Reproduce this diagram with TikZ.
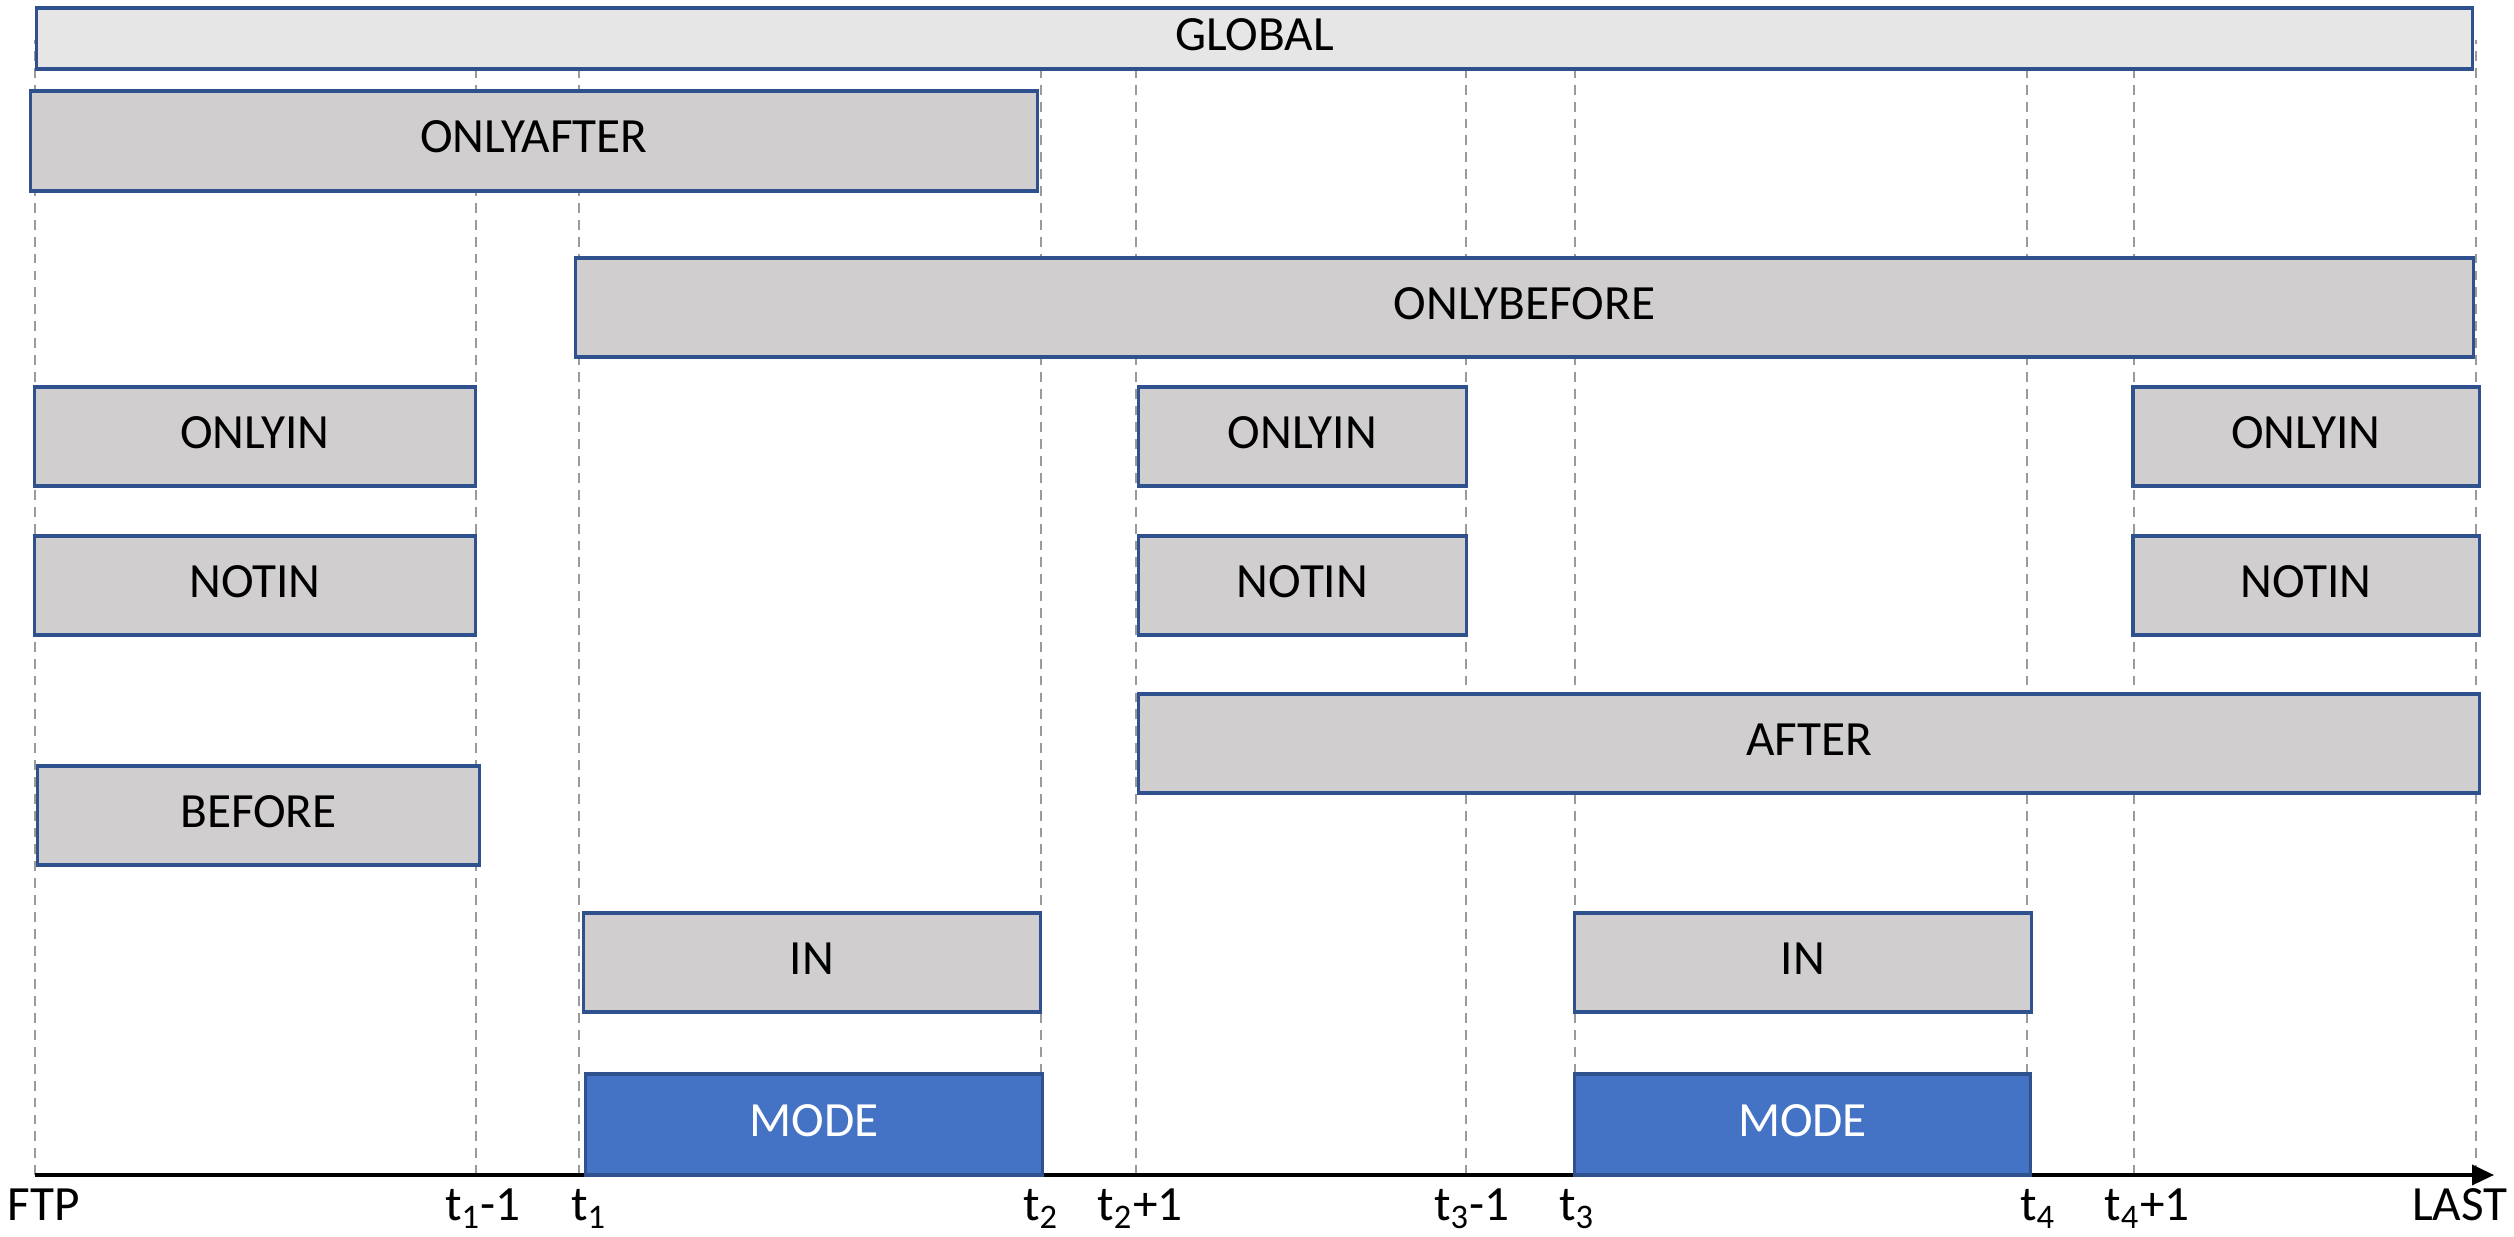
\documentclass[tikz,border=0pt]{standalone}
\usepackage{fontspec}
\setmainfont{Carlito}
\usetikzlibrary{positioning, arrows.meta}
\definecolor{CondColor}{HTML}{D0CECE}
\definecolor{GlobalColor}{HTML}{E7E6E6}
\definecolor{ModeColor}{HTML}{4472C4}
\definecolor{EdgeColor}{HTML}{2F528F}
\definecolor{GuideColor}{HTML}{9A9A9A}
\tikzset{
    span/.style={
        rectangle,
        inner sep=0pt,
        outer sep=0pt,
        minimum height=0.99cm,
        align=center,
        draw=EdgeColor,
        line width=0.9pt,
        font=\fontsize{14}{16}\selectfont,
        text height=1.38ex,
        text depth=0pt
    },
    cond/.style={span, fill=CondColor},
    glob/.style={span, fill=GlobalColor, minimum height=0.61cm},
    mode/.style={span, fill=ModeColor, text=white, minimum height=1.01cm},
    guide/.style={draw=GuideColor, line width=0.6pt, dash pattern=on 2.8pt off 2pt},
    axis/.style={-{Triangle[length=0.22cm, width=0.2cm]}, line width=1pt},
    tick/.style={anchor=base, inner sep=1pt, font=\fontsize{14}{16}\selectfont}
}

\begin{document}
\begin{tikzpicture}[x=0.01cm, y=-0.01cm]

\useasboundingbox (0,0) rectangle (2514,1237);

% Time points on the axis
\coordinate (ftp) at (35,1175);
\coordinate (t1m) at (476,1175);
\coordinate (t1) at (579,1175);
\coordinate (t2) at (1041,1175);
\coordinate (t2p) at (1136,1175);
\coordinate (t3m) at (1466,1175);
\coordinate (t3) at (1575,1175);
\coordinate (t4) at (2027,1175);
\coordinate (t4p) at (2134,1175);
\coordinate (last) at (2476,1175);
\coordinate (axis_end) at (2494,1175);

% Guides
\draw[guide] (ftp) -- ++(0,-1135);
\draw[guide] (t1m) -- ++(0,-1135);
\draw[guide] (t1) -- ++(0,-1135);
\draw[guide] (t2) -- ++(0,-1135);
\draw[guide] (t2p) -- ++(0,-1135);
\draw[guide] (t3m) -- ++(0,-1135);
\draw[guide] (t3) -- ++(0,-1135);
\draw[guide] (t4) -- ++(0,-1135);
\draw[guide] (t4p) -- ++(0,-1135);
\draw[guide] (last) -- ++(0,-1135);

% Axis
\draw[axis] (ftp) -- (axis_end);

% Labels
\node[tick] (l_ftp) at (44,1221) {FTP};
\node[tick] (l_t1m) at (483,1221) {t\textsubscript{1}-1};
\node[tick] (l_t1) at (589,1221) {t\textsubscript{1}};
\node[tick] (l_t2) at (1041,1221) {t\textsubscript{2}};
\node[tick] (l_t2p) at (1140,1221) {t\textsubscript{2}+1};
\node[tick] (l_t3m) at (1472,1221) {t\textsubscript{3}-1};
\node[tick] (l_t3) at (1577,1221) {t\textsubscript{3}};
\node[tick] (l_t4) at (2038,1221) {t\textsubscript{4}};
\node[tick] (l_t4p) at (2147,1221) {t\textsubscript{4}+1};
\node[tick] (l_last) at (2460,1221) {LAST};

% Global
\node[glob, minimum width=24.35cm] (n_global) at (1254.5,38.5) {GLOBAL};

% Onlyafter / Onlybefore
\node[cond, minimum width=10.06cm, minimum height=1.0cm] (n_onlyafter) at (534,141) {ONLYAFTER};
\node[cond, minimum width=18.97cm] (n_onlybefore) at (1524.5,307.5) {ONLYBEFORE};

% Onlyin
\node[cond, minimum width=4.40cm] (n_onlyin_a) at (255,436.5) {ONLYIN};
\node[cond, minimum width=3.27cm] (n_onlyin_b) at (1302.5,436.5) {ONLYIN};
\node[cond, minimum width=3.46cm] (n_onlyin_c) at (2306,436.5) {ONLYIN};

% Notin
\node[cond, minimum width=4.40cm] (n_notin_a) at (255,585.5) {NOTIN};
\node[cond, minimum width=3.27cm] (n_notin_b) at (1302.5,585.5) {NOTIN};
\node[cond, minimum width=3.46cm] (n_notin_c) at (2306,585.5) {NOTIN};

% After / Before
\node[cond, minimum width=13.40cm] (n_after) at (1809,743.5) {AFTER};
\node[cond, minimum width=4.41cm] (n_before) at (258.5,815.5) {BEFORE};

% In
\node[cond, minimum width=4.56cm] (n_in_a) at (812,962.5) {IN};
\node[cond, minimum width=4.56cm] (n_in_b) at (1803,962.5) {IN};

% Mode
\node[mode, minimum width=4.56cm] (n_mode_a) at (814,1124.5) {MODE};
\node[mode, minimum width=4.55cm] (n_mode_b) at (1802.5,1124.5) {MODE};

\end{tikzpicture}
\end{document}
